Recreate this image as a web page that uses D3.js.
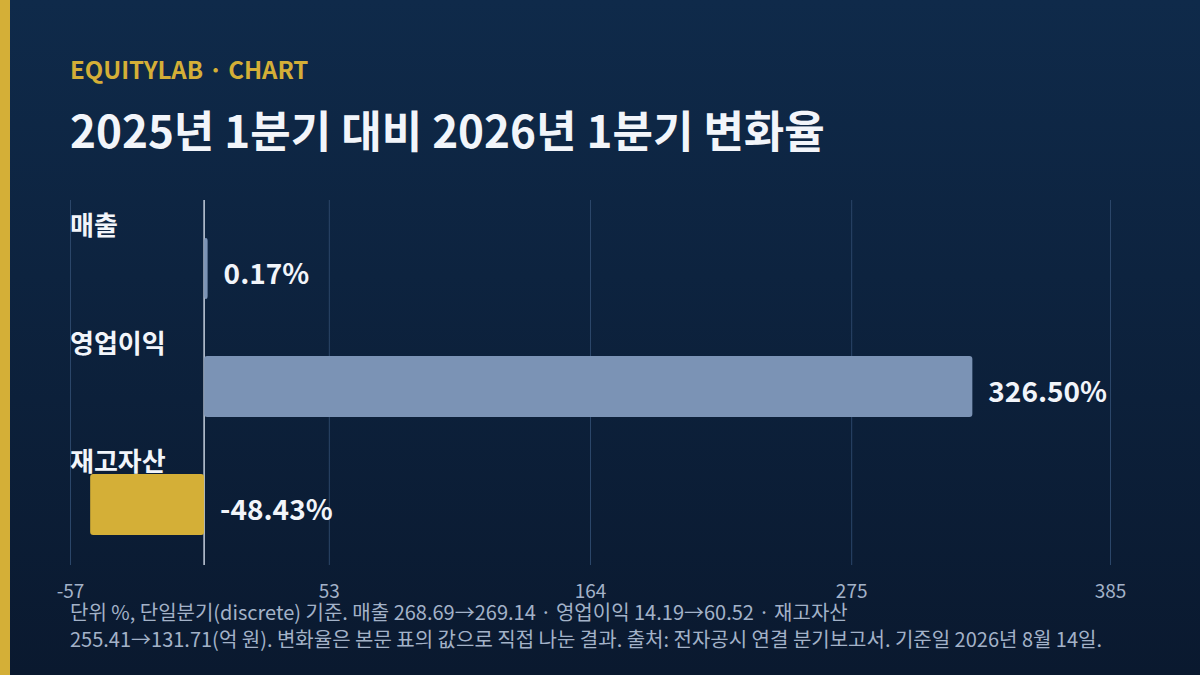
<!DOCTYPE html>
<html><head><meta charset="utf-8">
<script src="https://cdn.jsdelivr.net/npm/d3@7/dist/d3.min.js"></script>
<style>
html,body{margin:0;padding:0;background:#0c1e38;}
svg{display:block;font-family:"Noto Sans CJK KR","Noto Sans",sans-serif;}
</style></head>
<body>
<svg id="c" width="1200" height="675"></svg>
<script>
const categories = ["매출", "영업이익", "재고자산"];
const values = [0.17, 326.50, -48.43];
const valueLabels = ["0.17%", "326.50%", "-48.43%"];
const tickValues = [-57, 53, 164, 275, 385];
const tickLabels = ["-57", "53", "164", "275", "385"];
const kicker = "EQUITYLAB · CHART";
const title = "2025년 1분기 대비 2026년 1분기 변화율";
const footnote = [
  "단위 %, 단일분기(discrete) 기준. 매출 268.69→269.14 · 영업이익 14.19→60.52 · 재고자산",
  "255.41→131.71(억 원). 변화율은 본문 표의 값으로 직접 나눈 결과. 출처: 전자공시 연결 분기보고서. 기준일 2026년 8월 14일."
];

const svg = d3.select("#c");
const W = 1200, H = 675;

const defs = svg.append("defs");
const g = defs.append("linearGradient").attr("id","bg").attr("x1",0).attr("y1",0).attr("x2",0).attr("y2",1);
g.append("stop").attr("offset","0%").attr("stop-color","#0f2a4a");
g.append("stop").attr("offset","100%").attr("stop-color","#0a192f");
svg.append("rect").attr("width",W).attr("height",H).attr("fill","url(#bg)");
svg.append("rect").attr("width",10).attr("height",H).attr("fill","#d4af37");

svg.append("text").attr("x",70).attr("y",79).attr("fill","#d4af37")
  .attr("font-size",24).attr("font-weight",700).text(kicker);
svg.append("text").attr("x",70).attr("y",148).attr("fill","#f2f5fa")
  .attr("font-size",44).attr("font-weight",700).text(title);

const x = d3.scaleLinear().domain([tickValues[0], tickValues[tickValues.length-1]]).range([70, 1110]);
const plotTop = 200, plotBottom = 565;
const y = d3.scaleBand().domain(categories).range([200, 554]).padding(0);

// grid
const axis = d3.axisBottom(x).tickValues(tickValues).tickFormat((d,i)=>tickLabels[i]).tickSize(-(plotBottom-plotTop)).tickPadding(0);
const ax = svg.append("g").attr("transform",`translate(0,${plotBottom})`).call(axis);
ax.select(".domain").remove();
ax.selectAll(".tick line").attr("stroke","#2b4669").attr("stroke-width",1);
ax.selectAll(".tick text").attr("fill","#a3b2c8").attr("font-size",19)
  .attr("font-family",'"Noto Sans CJK KR","Noto Sans",sans-serif').attr("dy",0).attr("y",33);

// zero line
svg.append("line").attr("x1",x(0)).attr("x2",x(0)).attr("y1",plotTop).attr("y2",plotBottom)
  .attr("stroke","#c5cfdd").attr("stroke-width",1.5);

const rows = svg.append("g").selectAll("g").data(categories).join("g");
const barOff = 38, barH = 61;
rows.append("text").attr("x",70).attr("y",d=>y(d)+35).attr("fill","#f2f5fa")
  .attr("font-size",26).attr("font-weight",700).text(d=>d);

rows.append("rect")
  .attr("x",(d,i)=>Math.min(x(0), x(values[i])))
  .attr("y",d=>y(d)+barOff)
  .attr("width",(d,i)=>Math.max(3.5, Math.abs(x(values[i])-x(0))))
  .attr("height",barH).attr("rx",3)
  .attr("fill",(d,i)=>values[i] < 0 ? "#d4af37" : "#7b93b5");

rows.append("text")
  .attr("x",(d,i)=>(values[i] < 0 ? x(0) : Math.max(x(0)+3.5, x(values[i]))) + 16)
  .attr("y",d=>y(d)+barOff+barH/2+15)
  .attr("fill","#f2f5fa").attr("font-size",28).attr("font-weight",700)
  .text((d,i)=>valueLabels[i]);

svg.append("g").selectAll("text").data(footnote).join("text")
  .attr("x",70).attr("y",(d,i)=>620+i*27).attr("fill","#a3b2c8").attr("font-size",20).text(d=>d);
</script>
</body></html>
